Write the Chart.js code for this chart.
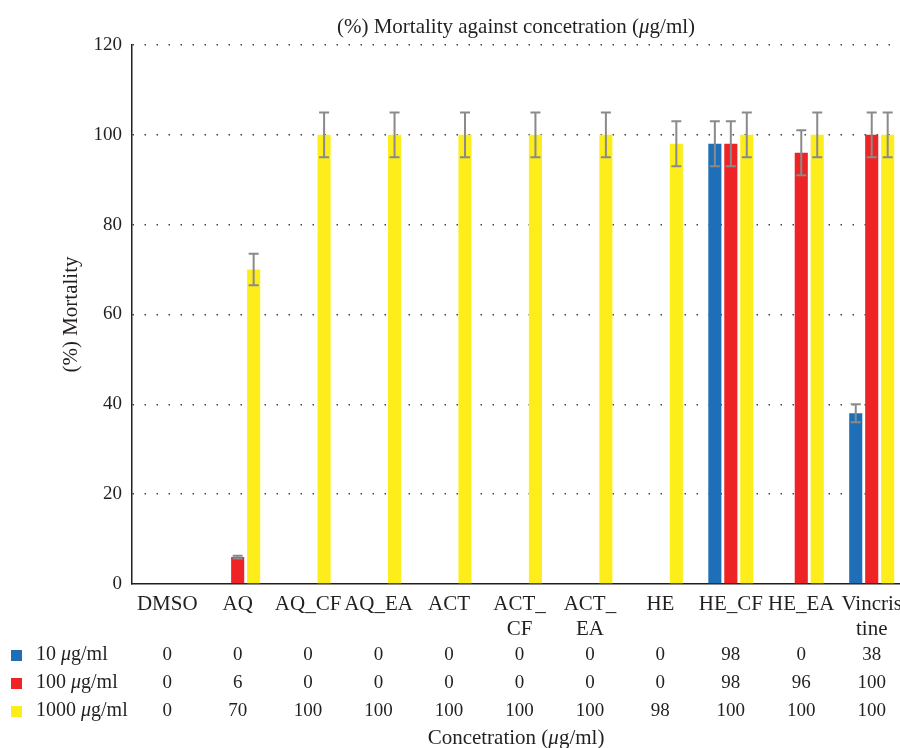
<!DOCTYPE html>
<html>
<head>
<meta charset="utf-8">
<script src="https://cdn.jsdelivr.net/npm/chart.js@4"></script>
<style>
  html, body { margin: 0; padding: 0; background: #fff; overflow: hidden; }
  #wrap { width: 900px; height: 748px; overflow: hidden; }
</style>
</head>
<body>
<div id="wrap"><canvas id="mortChart" width="910" height="748"></canvas></div>
<script>
const categories = ["DMSO", "AQ", "AQ_CF", "AQ_EA", "ACT", ["ACT_", "CF"], ["ACT_", "EA"], "HE", "HE_CF", "HE_EA", ["Vincris", "tine"]];
const seriesNames = ["10 ", "100 ", "1000 "]; // followed by italic mu + "g/ml"
const mort10 = [0, 0, 0, 0, 0, 0, 0, 0, 98, 0, 38];
const mort100 = [0, 6, 0, 0, 0, 0, 0, 0, 98, 96, 100];
const mort1000 = [0, 70, 100, 100, 100, 100, 100, 98, 100, 100, 100];
const err10 = [0, 0, 0, 0, 0, 0, 0, 0, 5, 0, 2];
const err100 = [0, 0.3, 0, 0, 0, 0, 0, 0, 5, 5, 5];
const err1000 = [0, 3.5, 5, 5, 5, 5, 5, 5, 5, 5, 5];
const yTicks = [0, 20, 40, 60, 80, 100, 120];

const colors = ["#1f6fb8", "#ee2326", "#fdee1b"];
const txt = "#231f20";
const serif = "'Liberation Serif', 'DejaVu Serif', serif";

Chart.defaults.font.family = serif;
Chart.defaults.color = txt;

// draw text where some parts are italic
function drawMixed(ctx, parts, x, y, size, align) {
  let total = 0;
  parts.forEach(p => {
    ctx.font = (p[1] ? "italic " : "") + size + "px " + serif;
    total += ctx.measureText(p[0]).width;
  });
  let cx = align === "center" ? x - total / 2 : x;
  ctx.textAlign = "left";
  parts.forEach(p => {
    ctx.font = (p[1] ? "italic " : "") + size + "px " + serif;
    ctx.fillText(p[0], cx, y);
    cx += ctx.measureText(p[0]).width;
  });
}

const errorBars = {
  id: "errorBars",
  afterDatasetsDraw(chart) {
    const ctx = chart.ctx;
    const errs = [err10, err100, err1000];
    const y = chart.scales.y;
    ctx.save();
    ctx.strokeStyle = "#8a8a8a";
    ctx.lineWidth = 2;
    chart.data.datasets.forEach((ds, di) => {
      chart.getDatasetMeta(di).data.forEach((bar, i) => {
        const e = errs[di][i];
        if (!e) return;
        const v = ds.data[i];
        const top = y.getPixelForValue(v + e);
        const bot = y.getPixelForValue(v - e);
        const cap = Math.min(5, bar.width / 2 - 1);
        ctx.beginPath();
        ctx.moveTo(bar.x, top); ctx.lineTo(bar.x, bot);
        ctx.moveTo(bar.x - cap, top); ctx.lineTo(bar.x + cap, top);
        ctx.moveTo(bar.x - cap, bot); ctx.lineTo(bar.x + cap, bot);
        ctx.stroke();
      });
    });
    ctx.restore();
  }
};

const extras = {
  id: "extras",
  afterDraw(chart) {
    const ctx = chart.ctx;
    const area = chart.chartArea;
    const x = chart.scales.x;
    const midX = (area.left + 900) / 2;
    ctx.save();
    ctx.fillStyle = txt;
    ctx.textBaseline = "middle";

    // title
    drawMixed(ctx, [["(%) Mortality against concetration (", false], ["\u03bc", true], ["g/ml)", false]], midX, 27, 21, "center");

    // y axis title
    ctx.save();
    ctx.translate(71, (area.top + area.bottom) / 2);
    ctx.rotate(-Math.PI / 2);
    ctx.font = "21px " + serif;
    ctx.textAlign = "center";
    ctx.fillText("(%) Mortality", 0, 0);
    ctx.restore();

    // data table
    const rows = [mort10, mort100, mort1000];
    const rowY = [655, 683, 711];
    rows.forEach((vals, r) => {
      ctx.fillStyle = colors[r];
      ctx.fillRect(11, rowY[r] - 5, 11, 11);
      ctx.fillStyle = txt;
      drawMixed(ctx, [[seriesNames[r], false], ["\u03bc", true], ["g/ml", false]], 36, rowY[r], 20, "left");
      ctx.font = "19px " + serif;
      ctx.textAlign = "center";
      vals.forEach((v, i) => {
        ctx.fillText(String(v), x.getPixelForValue(i), rowY[r]);
      });
    });

    // x axis title
    drawMixed(ctx, [["Concetration (", false], ["\u03bc", true], ["g/ml)", false]], midX, 738, 21, "center");
    ctx.restore();
  }
};

new Chart(document.getElementById("mortChart"), {
  type: "bar",
  data: {
    labels: categories,
    datasets: [
      { label: "10 \u03bcg/ml", data: mort10, backgroundColor: colors[0] },
      { label: "100 \u03bcg/ml", data: mort100, backgroundColor: colors[1] },
      { label: "1000 \u03bcg/ml", data: mort1000, backgroundColor: colors[2] }
    ]
  },
  options: {
    responsive: false,
    animation: false,
    categoryPercentage: 0.68,
    barPercentage: 0.82,
    layout: { autoPadding: false, padding: { top: 45, right: 0, left: 0, bottom: 0 } },
    plugins: {
      legend: { display: false },
      tooltip: { enabled: false }
    },
    scales: {
      x: {
        grid: { display: false, drawTicks: false },
        border: { color: txt, width: 1.5 },
        ticks: { font: { size: 21, lineHeight: 1.2 }, padding: 8, maxRotation: 0, autoSkip: false, color: txt },
        afterFit(s) { s.height = 164; }
      },
      y: {
        min: 0,
        max: 120,
        afterBuildTicks(s) { s.ticks = yTicks.map(v => ({ value: v })); },
        grid: {
          drawTicks: false,
          color: c => c.tick && c.tick.value === 0 ? "rgba(0,0,0,0)" : "#444",
          lineWidth: 1.5
        },
        border: { color: txt, width: 1.5, dash: [1.5, 10.5] },
        ticks: { font: { size: 19 }, padding: 10, color: txt },
        afterFit(s) { s.width = 132; }
      }
    }
  },
  plugins: [errorBars, extras]
});
</script>
</body>
</html>
